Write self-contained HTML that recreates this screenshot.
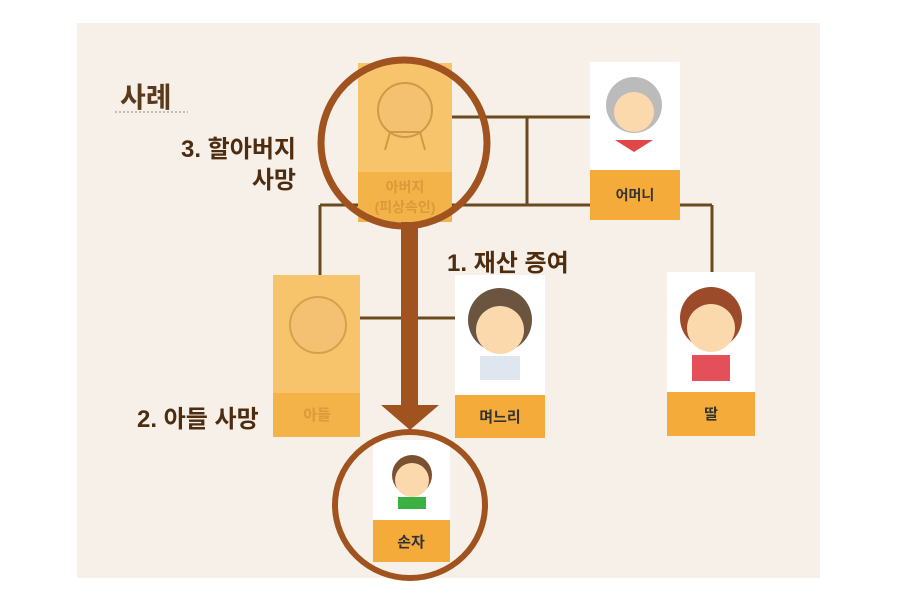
<!DOCTYPE html>
<html><head><meta charset="utf-8"><style>
body{margin:0;background:#fff;width:897px;height:601px;overflow:hidden;position:relative;font-family:"Liberation Sans","Noto Sans CJK KR",sans-serif}
.t{position:absolute;font-weight:bold;color:#4e2c10;font-size:24px;white-space:nowrap}
</style></head><body>
<svg width="897" height="601" style="position:absolute;left:0;top:0" font-family="Liberation Sans, Noto Sans CJK KR, sans-serif">
<rect x="77" y="23" width="743" height="555" fill="#f6f0e9"/>
<line x1="115" y1="112" x2="188" y2="112" stroke="#888" stroke-dasharray="2,2"/>
<g stroke="#6b4a1f" stroke-width="3" fill="none">
<path d="M452 117H590M527 117V205M320 205H712M320 205V275M712 205V272M360 318H455"/>
</g>
<rect x="358" y="63" width="94" height="159" fill="#f7c36b"/>
<rect x="358" y="172" width="94" height="50" fill="#f3b348"/>
<g opacity="0.55" stroke="#b07a2a" stroke-width="2" fill="#f3c177"><circle cx="405" cy="110" r="27"/><path d="M385 150l5-18h30l5 18" fill="none"/></g>
<text x="405" y="192" text-anchor="middle" font-size="14" font-weight="bold" fill="#d99a3a">아버지</text>
<text x="405" y="212" text-anchor="middle" font-size="14" font-weight="bold" fill="#d99a3a">(피상속인)</text>
<circle cx="404" cy="143" r="83" fill="none" stroke="#a0521f" stroke-width="7"/>
<rect x="590" y="62" width="90" height="108" fill="#fff"/>
<circle cx="634" cy="105" r="28" fill="#bbb"/><circle cx="634" cy="112" r="20" fill="#fbd9ad"/>
<path d="M615 140l19 12 19-12z" fill="#e04848"/>
<rect x="590" y="170" width="90" height="50" fill="#f4ab3a"/>
<text x="635" y="200" text-anchor="middle" font-size="14" font-weight="bold" fill="#333">어머니</text>
<rect x="273" y="275" width="87" height="162" fill="#f7c36b"/>
<rect x="273" y="393" width="87" height="44" fill="#f3b348"/>
<circle cx="318" cy="325" r="28" fill="#f3c177" stroke="#c28a3a" stroke-width="2" opacity="0.6"/>
<text x="317" y="420" text-anchor="middle" font-size="15" font-weight="bold" fill="#d99a3a">아들</text>
<rect x="455" y="275" width="90" height="120" fill="#fff"/>
<circle cx="500" cy="320" r="32" fill="#6b5440"/><circle cx="500" cy="330" r="24" fill="#fbd9ad"/>
<rect x="480" y="356" width="40" height="24" fill="#dfe6f0"/>
<rect x="455" y="395" width="90" height="43" fill="#f4ab3a"/>
<text x="500" y="422" text-anchor="middle" font-size="15" font-weight="bold" fill="#333">며느리</text>
<rect x="667" y="272" width="88" height="120" fill="#fff"/>
<circle cx="711" cy="318" r="31" fill="#9b4a2a"/><circle cx="711" cy="328" r="24" fill="#fbd9ad"/>
<rect x="692" y="355" width="38" height="26" fill="#e4505a"/>
<rect x="667" y="392" width="88" height="44" fill="#f4ab3a"/>
<text x="711" y="419" text-anchor="middle" font-size="15" font-weight="bold" fill="#333">딸</text>
<rect x="401" y="222" width="17" height="185" fill="#a0521f"/>
<path d="M381 405H439L410 430Z" fill="#a0521f"/>
<rect x="373" y="440" width="77" height="80" fill="#fff"/>
<circle cx="412" cy="475" r="20" fill="#7a5030"/><circle cx="412" cy="480" r="17" fill="#fbd9ad"/>
<rect x="398" y="497" width="28" height="12" fill="#3cb043"/>
<rect x="373" y="520" width="77" height="42" fill="#f4ab3a"/>
<text x="411" y="547" text-anchor="middle" font-size="15" font-weight="bold" fill="#333">손자</text>
<ellipse cx="410" cy="505" rx="75" ry="73" fill="none" stroke="#a0521f" stroke-width="6"/>
</svg>
<div class="t" style="left:120px;top:76px;font-size:28px;color:#5a3a1a">사례</div>
<div class="t" style="right:601px;top:134px;text-align:right;line-height:31px">3. 할아버지<br>사망</div>
<div class="t" style="left:447px;top:243px">1. 재산 증여</div>
<div class="t" style="left:137px;top:399px">2. 아들 사망</div>
</body></html>
